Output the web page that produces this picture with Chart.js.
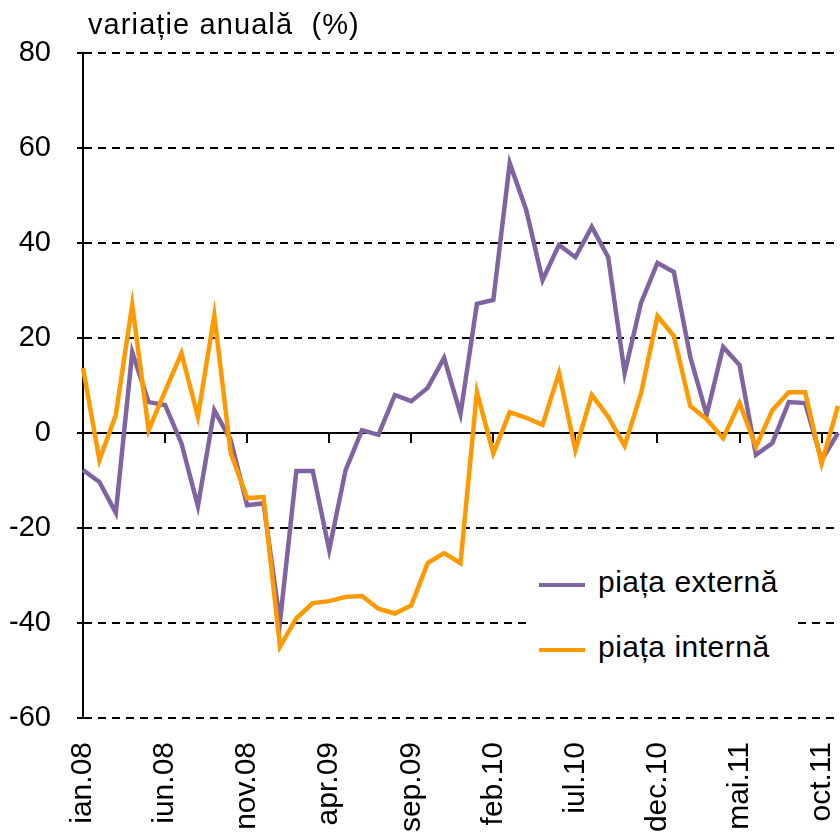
<!DOCTYPE html>
<html>
<head>
<meta charset="utf-8">
<script src="https://cdn.jsdelivr.net/npm/chart.js@4"></script>
<style>
  html, body { margin: 0; padding: 0; background: #fff; }
  #wrap { position: relative; width: 840px; height: 837px; overflow: hidden; }
  #chart-title {
    position: absolute; left: 88px; top: 8px;
    font: 29px 'Liberation Sans', Arial, sans-serif; color: #000; white-space: pre;
    letter-spacing: 1.1px;
  }
  #chart-legend {
    position: absolute; left: 527px; top: 558px; width: 268px; height: 112px;
    background: #fff; font: 30px 'Liberation Sans', Arial, sans-serif; color: #000;
    letter-spacing: 0.5px;
  }
  .lg-item { position: absolute; left: 12px; white-space: nowrap; }
  .lg-line { position: absolute; left: 0; width: 46px; height: 4px; }
  .lg-text { position: absolute; left: 59px; top: -18px; }
</style>
</head>
<body>
<div id="wrap">
  <canvas id="chart" width="840" height="837"></canvas>
  <div id="chart-title">variație anuală  (%)</div>
  <div id="chart-legend"></div>
</div>
<script>
// ── Dati ────────────────────────────────
const months = [
  'ian.08','feb.08','mar.08','apr.08','mai.08','iun.08','iul.08','aug.08','sep.08','oct.08','nov.08','dec.08',
  'ian.09','feb.09','mar.09','apr.09','mai.09','iun.09','iul.09','aug.09','sep.09','oct.09','nov.09','dec.09',
  'ian.10','feb.10','mar.10','apr.10','mai.10','iun.10','iul.10','aug.10','sep.10','oct.10','nov.10','dec.10',
  'ian.11','feb.11','mar.11','apr.11','mai.11','iun.11','iul.11','aug.11','sep.11','oct.11','nov.11'
];
const pietaExterna = [
  -7.8, -10.3, -16.8, 17, 6.5, 5.9, -2.2, -15.4, 4.8, -1.5, -15.2, -14.8,
  -39.8, -8, -8, -24.6, -7.8, 0.6, -0.4, 8, 6.7, 9.5, 15.8, 4,
  27.2, 28, 56.8, 47, 32.2, 39.6, 37, 43.4, 37, 12.6, 27.4, 35.8,
  33.9, 16, 3.8, 18.1, 14.3, -4.6, -2.1, 6.5, 6.3, -5.7, 0
];
const pietaInterna = [
  13.7, -5.7, 3.8, 27, 0.6, 8.8, 16.8, 3.4, 24.8, -4.2, -13.7, -13.5,
  -45, -39, -35.8, -35.4, -34.5, -34.3, -37, -38, -36.3, -27.4, -25.3, -27.4,
  8.6, -4.3, 4.4, 3.2, 1.7, 12.6, -3.6, 8, 3.4, -2.7, 8.4, 24.6,
  20.4, 5.7, 2.9, -1.1, 6.3, -2.9, 4.8, 8.6, 8.6, -6.4, 5.7
];
const yTicks = [-60, -40, -20, 0, 20, 40, 60, 80];
const labelEvery = 5;

const PURPLE = '#8064A2';
const ORANGE = '#FF9900';
const FONT = "'Liberation Sans', Arial, sans-serif";

// asse dello zero con tacche verso il basso
const zeroAxis = {
  id: 'zeroAxis',
  beforeDatasetsDraw(chart) {
    const { ctx, chartArea, scales: { x, y } } = chart;
    const y0 = Math.round(y.getPixelForValue(0));
    ctx.save();
    ctx.strokeStyle = '#000';
    ctx.lineWidth = 2;
    ctx.beginPath();
    ctx.moveTo(chartArea.left, y0);
    ctx.lineTo(chartArea.right, y0);
    for (let i = 0; i < months.length; i += labelEvery) {
      const px = Math.round(x.getPixelForValue(i));
      ctx.moveTo(px, y0);
      ctx.lineTo(px, y0 + 10);
    }
    ctx.stroke();
    ctx.restore();
  }
};

new Chart(document.getElementById('chart'), {
  type: 'line',
  data: {
    labels: months,
    datasets: [
      {
        label: 'piața externă',
        data: pietaExterna,
        borderColor: PURPLE,
        borderWidth: 4.5,
        pointRadius: 0,
        tension: 0,
        fill: false,
        order: 2
      },
      {
        label: 'piața internă',
        data: pietaInterna,
        borderColor: ORANGE,
        borderWidth: 4.5,
        pointRadius: 0,
        tension: 0,
        fill: false,
        order: 1
      }
    ]
  },
  options: {
    responsive: false,
    animation: false,
    layout: { padding: { top: 53, right: 2, left: 0, bottom: 0 } },
    plugins: {
      legend: { display: false },
      tooltip: { enabled: false }
    },
    scales: {
      x: {
        offset: false,
        grid: { display: false, drawTicks: false },
        border: { display: false },
        ticks: {
          autoSkip: false,
          minRotation: 90,
          maxRotation: 90,
          padding: 24,
          color: '#000',
          font: { family: FONT, size: 30 },
          callback: (v, i) => (i % labelEvery === 0 ? months[i] : '')
        },
        afterFit(scale) {
          scale.height = 119;
          scale.paddingLeft = 0;
          scale.paddingRight = 0;
        }
      },
      y: {
        min: -60,
        max: 80,
        afterBuildTicks(scale) {
          scale.ticks = yTicks.map(v => ({ value: v }));
        },
        grid: {
          color: c => (c.tick && c.tick.value === 0 ? 'rgba(0,0,0,0)' : '#000'),
          lineWidth: 2,
          tickColor: '#000',
          tickLength: 6
        },
        border: { display: true, color: '#000', width: 2, dash: [8, 6] },
        ticks: {
          padding: 26,
          color: '#000',
          font: { family: FONT, size: 29 }
        },
        afterFit(scale) {
          scale.width = 83;
        }
      }
    }
  },
  plugins: [zeroAxis]
});

// Legenda
const legendEl = document.getElementById('chart-legend');
legendEl.innerHTML = [
  ['piața externă', PURPLE, 25],
  ['piața internă', ORANGE, 90]
].map(([txt, col, top]) => `
  <div class="lg-item" style="top:${top}px">
    <div class="lg-line" style="background:${col}"></div>
    <div class="lg-text">${txt}</div>
  </div>`).join('');
</script>
</body>
</html>
